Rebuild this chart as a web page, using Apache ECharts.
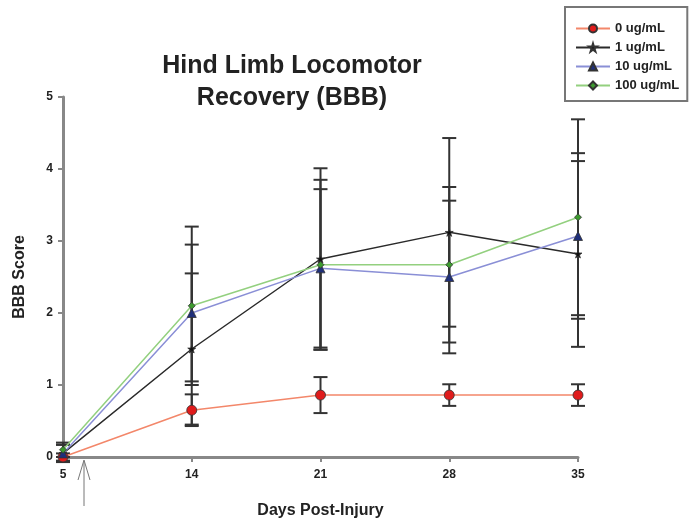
<!DOCTYPE html>
<html><head><meta charset="utf-8">
<script src="https://cdn.jsdelivr.net/npm/echarts@6/dist/echarts.min.js"></script>
<style>html,body{margin:0;padding:0;background:#fff}#c{width:698px;height:525px}</style>
</head><body><div id="c"></div>
<script>
const days = ['5', '14', '21', '28', '35'];
const yTicks = [0, 1, 2, 3, 4, 5];
const names = ['0 ug/mL', '1 ug/mL', '10 ug/mL', '100 ug/mL'];
const mean0 = [0.0, 0.65, 0.86, 0.86, 0.86];
const err0 = [0.05, 0.22, 0.25, 0.15, 0.15];
const mean1 = [0.05, 1.5, 2.75, 3.12, 2.82];
const err1 = [0.12, 1.05, 1.26, 1.31, 1.29];
const mean10 = [0.05, 2.0, 2.62, 2.5, 3.07];
const err10 = [0.12, 0.95, 1.1, 1.06, 1.15];
const mean100 = [0.1, 2.1, 2.67, 2.67, 3.33];
const err100 = [0.1, 1.1, 1.18, 1.08, 1.36];

const lineColors = ['#f3876a', '#2a2a2a', '#8a8fd6', '#93d07f'];
const markColors = ['#e01b1b', '#111111', '#1f2f7a', '#3c9a2e'];
const starPath = 'path://M50,0 L61,35 L98,35 L68,57 L79,91 L50,70 L21,91 L32,57 L2,35 L39,35 Z';
const symbols = ['circle', starPath, 'triangle', 'diamond'];
const symSizes = [10, 8, 9, 7];
const means = [mean0, mean1, mean10, mean100];
const errs = [err0, err1, err10, err100];

const chart = echarts.init(document.getElementById('c'));
const series = [];
means.forEach((m, s) => {
  series.push({
    type: 'custom', name: names[s] + '_err', silent: true, z: 1,
    data: m.map((v, i) => [i, v - errs[s][i], v + errs[s][i]]),
    renderItem: function (params, api) {
      const lo = api.coord([api.value(0), api.value(1)]);
      const hi = api.coord([api.value(0), api.value(2)]);
      const w = 7;
      const st = {stroke: '#333', lineWidth: 2};
      return {type: 'group', children: [
        {type: 'line', shape: {x1: lo[0], y1: lo[1], x2: hi[0], y2: hi[1]}, style: st},
        {type: 'line', shape: {x1: lo[0] - w, y1: lo[1], x2: lo[0] + w, y2: lo[1]}, style: st},
        {type: 'line', shape: {x1: hi[0] - w, y1: hi[1], x2: hi[0] + w, y2: hi[1]}, style: st}
      ]};
    }
  });
});
means.forEach((m, s) => {
  series.push({
    type: 'line', name: names[s], data: m, z: 3,
    symbol: symbols[s], symbolSize: symSizes[s],
    lineStyle: {color: lineColors[s], width: 1.5},
    itemStyle: {color: markColors[s], borderColor: '#333', borderWidth: 0.8},
    emphasis: {disabled: true}
  });
});

chart.setOption({
  animation: false,
  title: {
    text: 'Hind Limb Locomotor\nRecovery (BBB)',
    left: 287, top: 45, textAlign: 'center',
    textStyle: {fontFamily: 'Liberation Sans', fontWeight: 'bold', fontSize: 25, lineHeight: 32, color: '#222'}
  },
  legend: {
    data: names, orient: 'vertical', left: 565, top: 7,
    padding: [15, 8, 9, 10], itemGap: 6, itemWidth: 34, itemHeight: 10,
    borderColor: '#777', borderWidth: 2,
    textStyle: {fontFamily: 'Liberation Sans', fontWeight: 'bold', fontSize: 13, color: '#222'}
  },
  grid: {left: 63, right: 120, top: 97, bottom: 68},
  xAxis: {
    type: 'category', data: days, boundaryGap: false,
    name: 'Days Post-Injury', nameLocation: 'middle', nameGap: 46,
    nameTextStyle: {fontFamily: 'Liberation Sans', fontWeight: 'bold', fontSize: 16, color: '#222'},
    axisLine: {lineStyle: {color: '#888', width: 3}},
    axisTick: {show: true, length: 5, lineStyle: {color: '#888', width: 2}, alignWithLabel: true},
    axisLabel: {fontFamily: 'Liberation Sans', fontWeight: 'bold', fontSize: 12, color: '#222', margin: 12},
    splitLine: {show: false}
  },
  yAxis: {
    type: 'value', min: yTicks[0], max: yTicks[yTicks.length - 1], interval: 1,
    name: 'BBB Score', nameLocation: 'middle', nameGap: 35,
    nameTextStyle: {fontFamily: 'Liberation Sans', fontWeight: 'bold', fontSize: 16, color: '#222'},
    axisLine: {show: true, lineStyle: {color: '#888', width: 3}},
    axisTick: {show: true, length: 5, lineStyle: {color: '#888', width: 2}},
    axisLabel: {fontFamily: 'Liberation Sans', fontWeight: 'bold', fontSize: 12, color: '#222', margin: 10},
    splitLine: {show: false}
  },
  graphic: [
    {type: 'line', shape: {x1: 84, y1: 461, x2: 84, y2: 506}, style: {stroke: '#777', lineWidth: 1}},
    {type: 'polyline', shape: {points: [[78, 480], [84, 460], [90, 480]]}, style: {stroke: '#777', lineWidth: 1, fill: null}}
  ],
  series: series
});
</script></body></html>
